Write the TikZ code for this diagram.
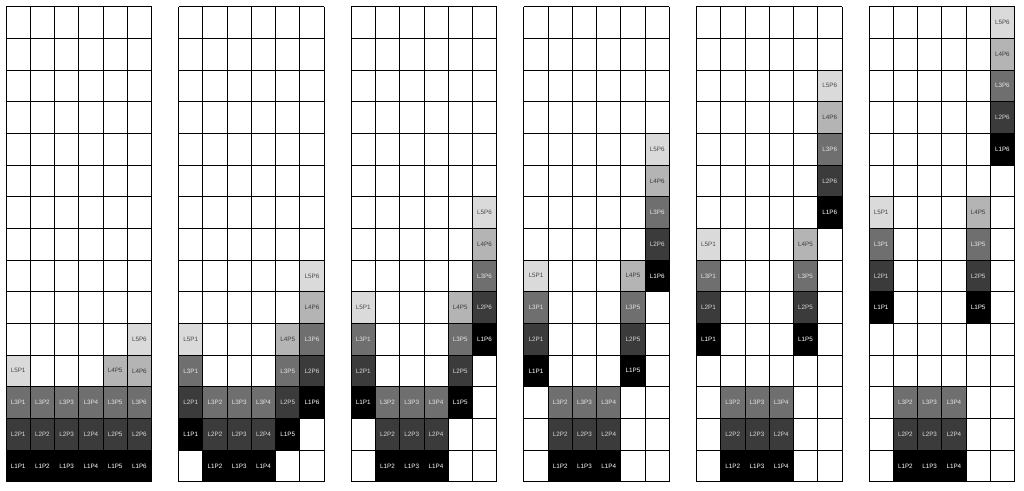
\documentclass[tikz,border=0pt]{standalone}
\usepackage{fontspec}
\setmainfont{Liberation Sans}
\definecolor{lvfillA}{HTML}{000000}
\definecolor{lvfillB}{HTML}{3B3B3B}
\definecolor{lvfillC}{HTML}{6F6F6F}
\definecolor{lvfillD}{HTML}{B4B4B4}
\definecolor{lvfillE}{HTML}{DADADA}
\definecolor{lvtextA}{HTML}{FFFFFF}
\definecolor{lvtextB}{HTML}{D8D8D8}
\definecolor{lvtextC}{HTML}{E4E4E4}
\definecolor{lvtextD}{HTML}{3C3C3C}
\definecolor{lvtextE}{HTML}{4A4A4A}
\tikzset{
  cellbox/.style={minimum width=24.25pt, minimum height=31.67pt, inner sep=0pt, outer sep=0pt,
    anchor=south west, font=\fontsize{6.3}{7}\selectfont},
  lv1/.style={cellbox, fill=lvfillA, text=lvtextA},
  lv2/.style={cellbox, fill=lvfillB, text=lvtextB},
  lv3/.style={cellbox, fill=lvfillC, text=lvtextC},
  lv4/.style={cellbox, fill=lvfillD, text=lvtextD},
  lv5/.style={cellbox, fill=lvfillE, text=lvtextE},
  gridline/.style={draw=black, line width=0.8pt}
}
\newcommand\cellat[4]{% grid, P(col), row, level
  \node[lv#4] (g#1-L#4P#2) at ({6+(#1-1)*172.6+(#2-1)*24.25}, {8.3+(#3-1)*31.67}) {L#4P#2};
}
\newcommand\bottomblock[1]{%
  \foreach \pp/\rr/\ll in {2/1/1,3/1/1,4/1/1,2/2/2,3/2/2,4/2/2,2/3/3,3/3/3,4/3/3}{\cellat{#1}{\pp}{\rr}{\ll}}%
}
\begin{document}
\begin{tikzpicture}[x=1pt,y=1pt]
\useasboundingbox (0,0) rectangle (1024,490);
\fill[white] (0,0) rectangle (1024,490);
% grid 1
\foreach \pp in {1,...,6}{\cellat{1}{\pp}{1}{1}\cellat{1}{\pp}{2}{2}\cellat{1}{\pp}{3}{3}}
\foreach \pp/\rr/\ll in {1/4/5,5/4/4,6/4/4,6/5/5}{\cellat{1}{\pp}{\rr}{\ll}}
% grid 2
\foreach \pp/\rr/\ll in {2/1/1,3/1/1,4/1/1,1/2/1,2/2/2,3/2/2,4/2/2,5/2/1,1/3/2,2/3/3,3/3/3,4/3/3,5/3/2,6/3/1,1/4/3,5/4/3,6/4/2,1/5/5,5/5/4,6/5/3,6/6/4,6/7/5}{\cellat{2}{\pp}{\rr}{\ll}}
% grid 3
\foreach \pp/\rr/\ll in {2/1/1,3/1/1,4/1/1,2/2/2,3/2/2,4/2/2,1/3/1,2/3/3,3/3/3,4/3/3,5/3/1,1/4/2,5/4/2,1/5/3,5/5/3,6/5/1,1/6/5,5/6/4,6/6/2,6/7/3,6/8/4,6/9/5}{\cellat{3}{\pp}{\rr}{\ll}}
% grid 4
\bottomblock{4}
\foreach \pp/\rr/\ll in {1/4/1,5/4/1,1/5/2,5/5/2,1/6/3,5/6/3,1/7/5,5/7/4,6/7/1,6/8/2,6/9/3,6/10/4,6/11/5}{\cellat{4}{\pp}{\rr}{\ll}}
% grid 5
\bottomblock{5}
\foreach \pp/\rr/\ll in {1/5/1,5/5/1,1/6/2,5/6/2,1/7/3,5/7/3,1/8/5,5/8/4,6/9/1,6/10/2,6/11/3,6/12/4,6/13/5}{\cellat{5}{\pp}{\rr}{\ll}}
% grid 6
\bottomblock{6}
\foreach \pp/\rr/\ll in {1/6/1,5/6/1,1/7/2,5/7/2,1/8/3,5/8/3,1/9/5,5/9/4,6/11/1,6/12/2,6/13/3,6/14/4,6/15/5}{\cellat{6}{\pp}{\rr}{\ll}}
% grid lines
\foreach \g in {0,...,5}{
  \foreach \c in {0,...,6}{
    \draw[gridline] ({6+\g*172.6+\c*24.25},8.3) -- ({6+\g*172.6+\c*24.25},483.35);
  }
  \foreach \r in {0,...,15}{
    \draw[gridline] ({6+\g*172.6},{8.3+\r*31.67}) -- ({6+\g*172.6+145.5},{8.3+\r*31.67});
  }
}
\end{tikzpicture}
\end{document}
